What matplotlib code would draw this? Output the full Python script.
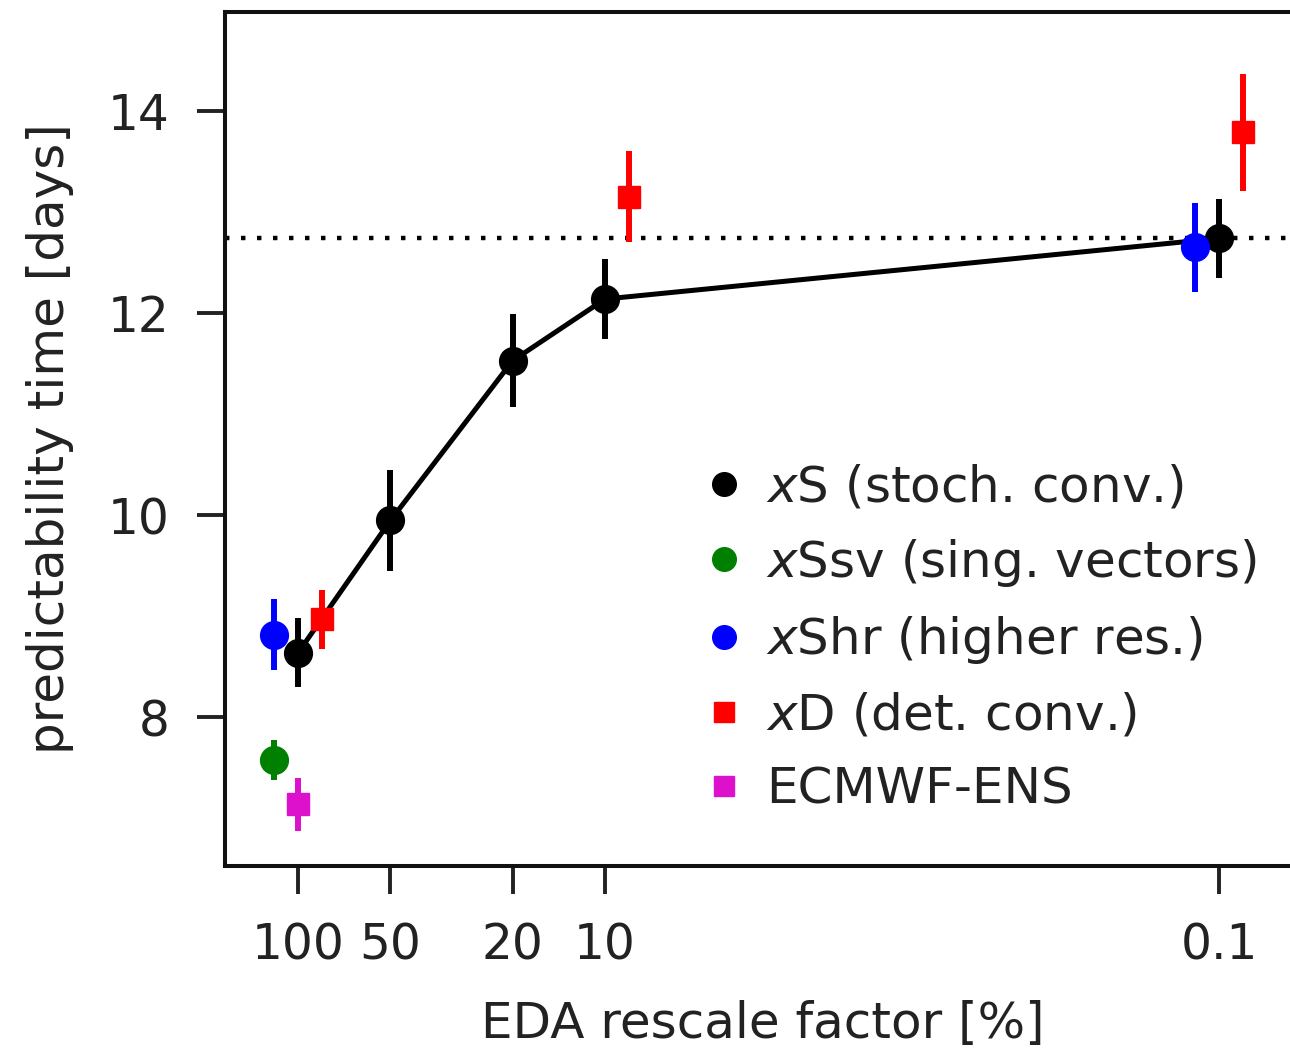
import matplotlib.pyplot as plt
from matplotlib.lines import Line2D

# EDA rescale factor [%] and predictability time [days]
xs_x = [100, 50, 20, 10, 0.1]
xs_y = [8.64, 9.95, 11.53, 12.14, 12.74]
xs_err = [0.34, 0.5, 0.46, 0.4, 0.39]

xssv_x = [120]
xssv_y = [7.58]
xssv_err = [0.2]

xshr_x = [120, 0.12]
xshr_y = [8.82, 12.65]
xshr_err = [0.35, 0.44]

xd_x = [83.3, 8.33, 0.0833]
xd_y = [8.97, 13.15, 13.79]
xd_err = [0.29, 0.45, 0.58]

ens_x = [100]
ens_y = [7.14]
ens_err = [0.26]

ref_level = 12.74

tick_vals = [100, 50, 20, 10, 0.1]
tick_labels = ["100", "50", "20", "10", "0.1"]

fig = plt.figure(figsize=(12.9, 10.56), dpi=100)
ax = fig.add_axes([225 / 1290, 190 / 1056, 1075 / 1290, 854 / 1056])

ax.axhline(ref_level, color="black", lw=3.2, dashes=(1, 2.6), zorder=1)

ax.plot(xs_x, xs_y, color="black", lw=3.6, zorder=2)

ekw = dict(ls="none", elinewidth=4.3, capsize=0, zorder=3)
ax.errorbar(xs_x, xs_y, yerr=xs_err, color="black", marker="o", ms=20, **ekw)
ax.errorbar(xssv_x, xssv_y, yerr=xssv_err, color="green", marker="o", ms=20, **ekw)
ax.errorbar(xshr_x, xshr_y, yerr=xshr_err, color="blue", marker="o", ms=20, **ekw)
ax.errorbar(xd_x, xd_y, yerr=xd_err, color="red", marker="s", ms=16, **ekw)
ax.errorbar(ens_x, ens_y, yerr=ens_err, color="#dd11cc", marker="s", ms=16, **ekw)

ax.set_xscale("log")
ax.set_xlim(173, 0.0545)
ax.set_ylim(6.53, 14.98)
ax.set_xticks(tick_vals)
ax.set_xticklabels(tick_labels)
ax.minorticks_off()
ax.set_yticks([8, 10, 12, 14])

ax.tick_params(axis="both", length=20, width=2.8, color="#222222")
ax.tick_params(axis="y", labelsize=35, pad=20)
ax.tick_params(axis="x", labelsize=35, pad=20)
for sp in ax.spines.values():
    sp.set_linewidth(2.9)
    sp.set_color("#111111")

ax.set_xlabel("EDA rescale factor [%]", fontsize=36, labelpad=22, color="#222222")
ax.set_ylabel("predictability time [days]", fontsize=36, labelpad=24, color="#222222")
for lab in ax.get_xticklabels() + ax.get_yticklabels():
    lab.set_color("#222222")

handles = [
    Line2D([], [], ls="none", marker="o", color="black", ms=17),
    Line2D([], [], ls="none", marker="o", color="green", ms=17),
    Line2D([], [], ls="none", marker="o", color="blue", ms=17),
    Line2D([], [], ls="none", marker="s", color="red", ms=14),
    Line2D([], [], ls="none", marker="s", color="#dd11cc", ms=14),
]
labels = [
    "$\\it{x}$S (stoch. conv.)",
    "$\\it{x}$Ssv (sing. vectors)",
    "$\\it{x}$Shr (higher res.)",
    "$\\it{x}$D (det. conv.)",
    "ECMWF-ENS",
]
leg = ax.legend(handles, labels, loc="upper left", bbox_to_anchor=(0.429, 0.495),
                frameon=False, fontsize=36, handlelength=0.7, handletextpad=0.5,
                labelspacing=0.51, borderaxespad=0)
for t in leg.get_texts():
    t.set_color("#222222")

plt.savefig("out.png", dpi=100)
plt.close()
